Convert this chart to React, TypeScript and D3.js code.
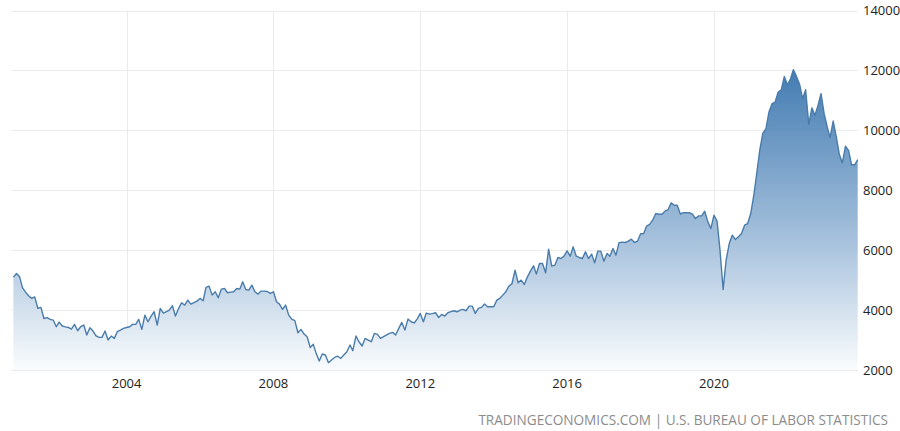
import { useEffect, useRef } from "react";
import * as d3 from "d3";

// US job openings (thousands), monthly, Dec 2000 .. Dec 2023
const firstMonth = new Date(2000, 11, 1);

const openings2000s = [
  5100,
  5220, 5110, 4750, 4600, 4480, 4390, 4440, 4060, 4090, 3720, 3750, 3690, // 2001
  3667, 3444, 3600, 3467, 3440, 3420, 3367, 3522, 3311, 3444, 3500, 3167, // 2002
  3411, 3300, 3150, 3089, 3089, 3300, 3000, 3133, 3055, 3278, 3333, 3389, // 2003
  3420, 3444, 3522, 3522, 3689, 3355, 3833, 3611, 3800, 3944, 3500, 4055, // 2004
  3900, 3950, 4000, 4144, 3800, 4050, 4244, 4167, 4333, 4200, 4250, 4300, // 2005
  4389, 4311, 4756, 4800, 4500, 4611, 4411, 4700, 4722, 4578, 4600, 4611, // 2006
  4722, 4700, 4944, 4689, 4667, 4833, 4611, 4533, 4633, 4633, 4620, 4556, // 2007
  4611, 4278, 4200, 4022, 4167, 3833, 3700, 3650, 3244, 3356, 3200, 3111, // 2008
  2750, 2856, 2556, 2300, 2533, 2500, 2244, 2333, 2420, 2460, 2389, 2500, // 2009
];

const openings2010s = [
  2611, 2833, 2644, 3133, 2944, 2800, 3055, 3000, 2944, 3222, 3189, 3055, // 2010
  3111, 3170, 3222, 3256, 3167, 3389, 3589, 3333, 3700, 3611, 3570, 3700, // 2011
  3889, 3611, 3900, 3867, 3880, 3911, 3756, 3856, 3800, 3911, 3950, 3978, // 2012
  3944, 4000, 4022, 3978, 4133, 4133, 3889, 4056, 4090, 4200, 4111, 4111, // 2013
  4111, 4333, 4389, 4500, 4611, 4800, 4880, 5333, 4911, 5000, 4856, 5100, // 2014
  5300, 5478, 5200, 5556, 5556, 5244, 6033, 5467, 5500, 5756, 5722, 5800, // 2015
  5978, 5800, 6111, 5800, 5756, 5722, 5944, 5722, 5867, 5578, 5967, 5967, // 2016
  5633, 5889, 5800, 6056, 5833, 6250, 6270, 6256, 6300, 6367, 6256, 6300, // 2017
  6550, 6556, 6800, 6860, 7000, 7222, 7200, 7200, 7300, 7350, 7578, 7500, // 2018
  7500, 7200, 7250, 7250, 7250, 7200, 7056, 7144, 7144, 7300, 6944, 6722, // 2019
];

const openings2020s = [
  7167, 6967, 6000, 4689, 5667, 6222, 6500, 6356, 6450, 6556, 6833, 6889, // 2020
  7222, 7850, 8550, 9350, 9900, 10056, 10611, 10889, 10944, 11278, 11356, 11800, // 2021
  11522, 11722, 12022, 11800, 11550, 11056, 11356, 10200, 10750, 10500, 10833, 11222, // 2022
  10556, 10111, 9756, 10311, 9800, 9200, 8911, 9467, 9333, 8850, 8850, 9022, // 2023
];

const yTicks = [2000, 4000, 6000, 8000, 10000, 12000, 14000];
const xTickYears = [2004, 2008, 2012, 2016, 2020];
const sourceNote = "TRADINGECONOMICS.COM | U.S. BUREAU OF LABOR STATISTICS";

type Point = { date: Date; value: number };

export default function App() {
  const svgRef = useRef<SVGSVGElement | null>(null);

  useEffect(() => {
    if (!svgRef.current) return;
    document.body.style.margin = "0";

    const width = 900;
    const height = 431;

    const data: Point[] = [...openings2000s, ...openings2010s, ...openings2020s].map((value, i) => ({
      date: d3.timeMonth.offset(firstMonth, i),
      value,
    }));

    const svg = d3.select(svgRef.current);
    svg.selectAll("*").remove();
    svg.attr("width", width).attr("height", height);

    const x = d3
      .scaleTime()
      .domain([data[0].date, data[data.length - 1].date])
      .range([13.4, 857.7]);

    const y = d3.scaleLinear().domain([2000, 14000]).range([370, 10.5]);

    const gridLeft = 11;
    const gridRight = 858;

    // gradient for the area
    const defs = svg.append("defs");
    const grad = defs
      .append("linearGradient")
      .attr("id", "areaFill")
      .attr("gradientUnits", "userSpaceOnUse")
      .attr("x1", 0)
      .attr("x2", 0)
      .attr("y1", y(d3.max(data, (d) => d.value) ?? 12000))
      .attr("y2", y(2000));
    grad.append("stop").attr("offset", "0%").attr("stop-color", "#447cb2");
    grad.append("stop").attr("offset", "55%").attr("stop-color", "#a3bfdb");
    grad.append("stop").attr("offset", "100%").attr("stop-color", "#fafcfd");

    // grid
    svg
      .append("g")
      .selectAll("line")
      .data(yTicks)
      .join("line")
      .attr("x1", gridLeft)
      .attr("x2", gridRight)
      .attr("y1", (d) => Math.round(y(d)) + 0.5)
      .attr("y2", (d) => Math.round(y(d)) + 0.5)
      .attr("stroke", "#ebebeb")
      .attr("stroke-width", 1);

    svg
      .append("g")
      .selectAll("line")
      .data(xTickYears)
      .join("line")
      .attr("x1", (d) => Math.round(x(new Date(d, 0, 1))) + 0.5)
      .attr("x2", (d) => Math.round(x(new Date(d, 0, 1))) + 0.5)
      .attr("y1", y(14000))
      .attr("y2", y(2000))
      .attr("stroke", "#ebebeb")
      .attr("stroke-width", 1);

    // area + line
    const area = d3
      .area<Point>()
      .x((d) => x(d.date))
      .y0(y(2000))
      .y1((d) => y(d.value));

    const line = d3
      .line<Point>()
      .x((d) => x(d.date))
      .y((d) => y(d.value));

    svg.append("path").datum(data).attr("d", area).attr("fill", "url(#areaFill)");

    svg
      .append("path")
      .datum(data)
      .attr("d", line)
      .attr("fill", "none")
      .attr("stroke", "#4a7cab")
      .attr("stroke-width", 1.4)
      .attr("stroke-linejoin", "round");

    // y labels (right side)
    svg
      .append("g")
      .selectAll("text")
      .data(yTicks)
      .join("text")
      .attr("x", 863)
      .attr("y", (d) => y(d))
      .attr("dy", "0.36em")
      .attr("font-family", "'Open Sans', sans-serif")
      .attr("font-size", 13)
      .attr("fill", "#222")
      .text((d) => String(d));

    // x labels
    svg
      .append("g")
      .selectAll("text")
      .data(xTickYears)
      .join("text")
      .attr("x", (d) => x(new Date(d, 0, 1)))
      .attr("y", 383)
      .attr("dy", "0.36em")
      .attr("text-anchor", "middle")
      .attr("font-family", "'Open Sans', sans-serif")
      .attr("font-size", 13)
      .attr("fill", "#222")
      .text((d) => String(d));

    // source note
    svg
      .append("text")
      .attr("x", 888)
      .attr("y", 420)
      .attr("dy", "0.36em")
      .attr("text-anchor", "end")
      .attr("font-family", "'Open Sans', sans-serif")
      .attr("font-size", 13.6)
      .attr("fill", "#8c8c8c")
      .text(sourceNote);
  }, []);

  return <svg ref={svgRef} style={{ display: "block" }} />;
}
